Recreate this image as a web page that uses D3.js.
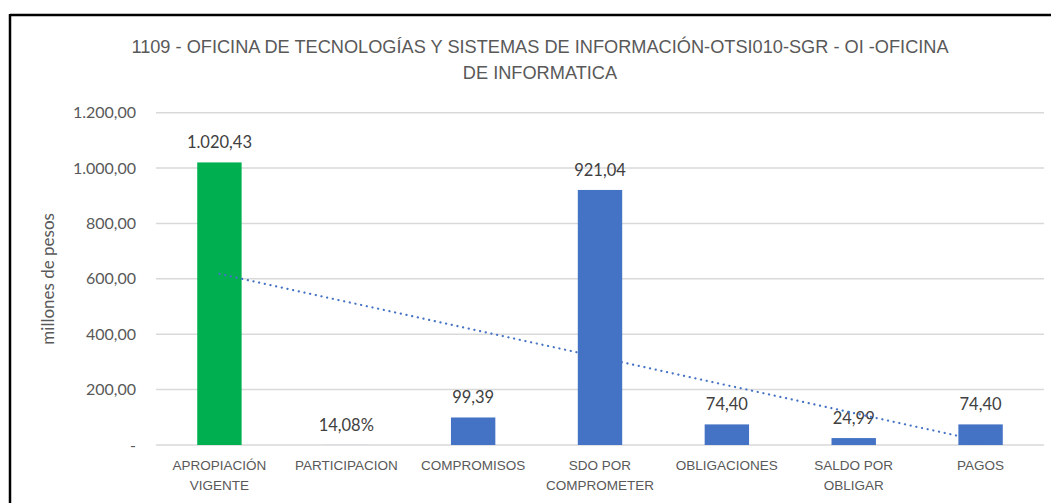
<!DOCTYPE html>
<html>
<head>
<meta charset="utf-8">
<script src="https://cdn.jsdelivr.net/npm/d3@7"></script>
<style>
  body { margin: 0; background: #fff; }
  svg { display: block; }
</style>
</head>
<body>
<div id="chart"></div>
<script>
var categories = [["APROPIACIÓN", "VIGENTE"], ["PARTICIPACION"], ["COMPROMISOS"], ["SDO POR", "COMPROMETER"], ["OBLIGACIONES"], ["SALDO POR", "OBLIGAR"], ["PAGOS"]];
var values = [1020.43, 0.1408, 99.39, 921.04, 74.40, 24.99, 74.40];
var valueLabels = ["1.020,43", "14,08%", "99,39", "921,04", "74,40", "24,99", "74,40"];
var barColors = ["#00b050", "#4472c4", "#4472c4", "#4472c4", "#4472c4", "#4472c4", "#4472c4"];
var yTicks = [0, 200, 400, 600, 800, 1000, 1200];
var yTickLabels = ["-", "200,00", "400,00", "600,00", "800,00", "1.000,00", "1.200,00"];
var titleLines = ["1109 - OFICINA DE TECNOLOGÍAS Y SISTEMAS DE INFORMACIÓN-OTSI010-SGR - OI -OFICINA", "DE INFORMATICA"];

var W = 1051, H = 503;
var plotLeft = 156, plotRight = 1044, plotTop = 112.7, plotBottom = 445;

var svg = d3.select("#chart").append("svg")
    .attr("width", W).attr("height", H);

// frame (only top + left visible in the crop)
svg.append("line").attr("x1", 10).attr("x2", W).attr("y1", 15).attr("y2", 15)
    .attr("stroke", "#000").attr("stroke-width", 2.5);
svg.append("line").attr("x1", 10).attr("x2", 10).attr("y1", 14).attr("y2", H)
    .attr("stroke", "#000").attr("stroke-width", 2.5);

var x = d3.scaleBand().domain(d3.range(values.length)).range([plotLeft, plotRight]).paddingInner(0.65).paddingOuter(0.325);
var y = d3.scaleLinear().domain([0, 1200]).range([plotBottom, plotTop]);

// title
svg.append("g").selectAll("text").data(titleLines).enter().append("text")
    .attr("x", 540).attr("y", function(d, i){ return 53 + i * 26; })
    .attr("text-anchor", "middle")
    .style("font-family", "'Liberation Sans', sans-serif")
    .style("font-size", "18.2px").style("fill", "#595959")
    .text(function(d){ return d; });

// gridlines
svg.append("g").selectAll("line").data(yTicks).enter().append("line")
    .attr("x1", plotLeft).attr("x2", plotRight)
    .attr("y1", function(d){ return y(d); }).attr("y2", function(d){ return y(d); })
    .attr("stroke", "#d9d9d9").attr("stroke-width", 1.5);

// y axis labels
var yAxis = d3.axisLeft(y).tickValues(yTicks).tickSize(0).tickPadding(0)
    .tickFormat(function(d, i){ return yTickLabels[i]; });
var ya = svg.append("g").attr("transform", "translate(136,0)").call(yAxis);
ya.select(".domain").remove();
ya.selectAll("text")
    .style("font-family", "Lato, sans-serif")
    .style("font-size", "16px").style("fill", "#595959");

svg.append("text")
    .attr("transform", "translate(54," + ((plotTop + plotBottom) / 2) + ") rotate(-90)")
    .attr("text-anchor", "middle")
    .style("font-family", "Lato, sans-serif")
    .style("font-size", "17px").style("fill", "#595959")
    .text("millones de pesos");

// bars
svg.append("g").selectAll("rect").data(values).enter().append("rect")
    .attr("x", function(d, i){ return x(i); })
    .attr("width", x.bandwidth())
    .attr("y", function(d){ return y(d); })
    .attr("height", function(d){ return plotBottom - y(d); })
    .attr("fill", function(d, i){ return barColors[i]; });

// value labels
svg.append("g").selectAll("text").data(values).enter().append("text")
    .attr("x", function(d, i){ return x(i) + x.bandwidth() / 2; })
    .attr("y", function(d){ return y(d) - 14; })
    .attr("text-anchor", "middle")
    .style("font-family", "Lato, sans-serif")
    .style("font-size", "16.5px").style("fill", "#404040")
    .text(function(d, i){ return valueLabels[i]; });

// x category labels
var xl = svg.append("g").selectAll("text").data(categories).enter().append("text")
    .attr("x", function(d, i){ return x(i) + x.bandwidth() / 2; })
    .attr("y", 470)
    .attr("text-anchor", "middle")
    .style("font-family", "'Liberation Sans', sans-serif")
    .style("font-size", "13.5px").style("fill", "#595959");
xl.selectAll("tspan").data(function(d){ return d; }).enter().append("tspan")
    .attr("x", function(){ return d3.select(this.parentNode).attr("x"); })
    .attr("dy", function(d, i){ return i === 0 ? 0 : 20; })
    .text(function(d){ return d; });

// linear trendline (least squares over category index)
var n = values.length;
var mx = d3.mean(d3.range(n), function(i){ return i + 1; });
var my = d3.mean(values);
var sxy = d3.sum(values, function(v, i){ return (i + 1 - mx) * (v - my); });
var sxx = d3.sum(d3.range(n), function(i){ return (i + 1 - mx) * (i + 1 - mx); });
var slope = sxy / sxx, icpt = my - slope * mx;
var trend = [0, n - 1].map(function(i){ return [x(i) + x.bandwidth() / 2, y(icpt + slope * (i + 1))]; });
svg.append("path")
    .attr("d", d3.line()(trend))
    .attr("fill", "none").attr("stroke", "#4472c4")
    .attr("stroke-width", 2.2).attr("stroke-dasharray", "0.1,5.7").attr("stroke-linecap", "round");
</script>
</body>
</html>
